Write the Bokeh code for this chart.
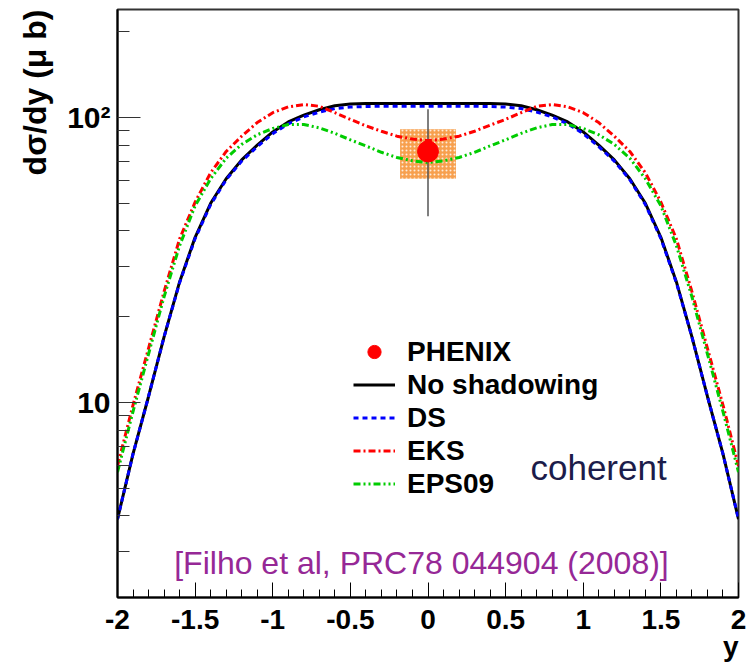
from bokeh.plotting import figure
from bokeh.models import (Range1d, SingleIntervalTicker, FixedTicker, Legend, LegendItem, Label, Title)
from bokeh.embed import file_html
from bokeh.resources import INLINE

# ---- data ----
rap = [-2.0, -1.9, -1.8, -1.7, -1.6, -1.5, -1.4, -1.3, -1.2, -1.1, -1.0,
       -0.9, -0.8, -0.7, -0.6, -0.5, -0.4, -0.3, -0.2, -0.1, 0.0,
       0.1, 0.2, 0.3, 0.4, 0.5, 0.6, 0.7, 0.8, 0.9, 1.0,
       1.1, 1.2, 1.3, 1.4, 1.5, 1.6, 1.7, 1.8, 1.9, 2.0]

no_shadowing = [3.9, 6.6, 10.5, 17.0, 26.5, 38.0, 50.0, 61.0, 71.0, 80.0, 89.0,
                96.5, 102.0, 106.5, 110.0, 111.5, 112.0, 112.0, 112.0, 112.0, 112.0,
                112.0, 112.0, 112.0, 112.0, 111.5, 110.0, 106.5, 102.0, 96.5, 89.0,
                80.0, 71.0, 61.0, 50.0, 38.0, 26.5, 17.0, 10.5, 6.6, 3.9]

ds = [3.9, 6.6, 10.5, 17.0, 26.3, 37.6, 49.5, 60.5, 70.3, 79.0, 87.8,
      95.0, 100.5, 104.5, 107.5, 108.8, 109.3, 109.5, 109.5, 109.5, 109.5,
      109.5, 109.5, 109.5, 109.3, 108.8, 107.5, 104.5, 100.5, 95.0, 87.8,
      79.0, 70.3, 60.5, 49.5, 37.6, 26.3, 17.0, 10.5, 6.6, 3.9]

eks = [6.0, 9.8, 15.5, 24.5, 37.5, 50.5, 64.0, 76.0, 86.0, 96.0, 104.0,
       109.0, 111.0, 109.5, 104.0, 98.5, 93.5, 89.5, 86.0, 84.0, 83.0,
       84.0, 86.0, 89.5, 94.0, 98.5, 104.0, 109.5, 111.0, 109.0, 104.0,
       96.0, 86.0, 76.0, 64.0, 50.5, 37.5, 24.5, 15.5, 9.8, 6.0]

eps09 = [5.7, 9.3, 14.8, 23.5, 35.5, 49.0, 61.0, 72.0, 80.5, 87.0, 91.5,
         94.5, 94.5, 92.0, 88.0, 83.5, 79.5, 75.5, 72.4, 70.5, 69.5,
         70.5, 72.4, 75.5, 79.5, 83.5, 88.0, 92.0, 94.5, 94.5, 91.5,
         87.0, 80.5, 72.0, 61.0, 49.0, 35.5, 23.5, 14.8, 9.3, 5.7]

phenix_y = [0.0]
phenix_val = [76.0]
phenix_stat = [31.0]
phenix_syst = [15.0]
phenix_box_halfwidth = [0.18]

x_tick_vals = [-2, -1.5, -1, -0.5, 0, 0.5, 1, 1.5, 2]
x_tick_labels = ["-2", "-1.5", "-1", "-0.5", "0", "0.5", "1", "1.5", "2"]
y_tick_vals = [10, 100]
y_tick_labels = ["10", "10\u00b2"]
y_minor_vals = [3, 4, 5, 6, 7, 8, 9, 20, 30, 40, 50, 60, 70, 80, 90, 200]

FONT = "Liberation Sans"

p = figure(width=749, height=667, x_range=Range1d(-2, 2), y_range=Range1d(2.07, 239.3),
           y_axis_type="log", output_backend="svg", toolbar_location=None,
           min_border_left=117, min_border_right=11, min_border_top=9, min_border_bottom=70)
p.xgrid.visible = False
p.ygrid.visible = False
p.outline_line_color = "#333333"
p.outline_line_width = 2
p.background_fill_color = "white"
p.border_fill_color = "white"

# x axis
xa = p.xaxis[0]
xa.ticker = SingleIntervalTicker(interval=0.5, num_minor_ticks=5)
xa.major_label_overrides = {v: l for v, l in zip(x_tick_vals, x_tick_labels)}
xa.major_tick_in = 15
xa.major_tick_out = 0
xa.minor_tick_in = 8
xa.minor_tick_out = 0
xa.major_label_standoff = 12
xa.major_label_text_font = FONT
xa.major_label_text_font_style = "bold"
xa.major_label_text_font_size = "28px"
xa.major_label_text_color = "black"
xa.axis_line_width = 2
xa.axis_line_color = "black"
xa.major_tick_line_color = "black"
xa.minor_tick_line_color = "black"

# y axis
ya = p.yaxis[0]
ya.ticker = FixedTicker(ticks=y_tick_vals, minor_ticks=y_minor_vals)
ya.major_label_overrides = {v: l for v, l in zip(y_tick_vals, y_tick_labels)}
ya.major_tick_in = 23
ya.major_tick_out = 0
ya.minor_tick_in = 12
ya.minor_tick_out = 0
ya.major_label_standoff = 7
ya.major_label_text_font = FONT
ya.major_label_text_font_style = "bold"
ya.major_label_text_font_size = "30px"
ya.major_label_text_color = "black"
ya.axis_line_width = 2
ya.axis_line_color = "black"
ya.major_tick_line_color = "#333333"
ya.minor_tick_line_color = "#333333"

p.add_layout(Title(text="d\u03c3/dy (\u03bc b)", align="right", text_font=FONT,
                   text_font_style="bold", text_font_size="32px", text_color="black",
                   standoff=24), "left")
p.add_layout(Title(text="y", align="right", text_font=FONT,
                   text_font_style="bold", text_font_size="28px", text_color="black",
                   standoff=-6), "below")

# PHENIX systematic box and stat error bar
left = [a - w for a, w in zip(phenix_y, phenix_box_halfwidth)]
right = [a + w for a, w in zip(phenix_y, phenix_box_halfwidth)]
bot = [v - s for v, s in zip(phenix_val, phenix_syst)]
top = [v + s for v, s in zip(phenix_val, phenix_syst)]
p.quad(left=left, right=right, bottom=bot, top=top, fill_color="#f7a04e", line_color=None,
       hatch_pattern="dot", hatch_color="white", hatch_scale=4, hatch_alpha=0.8)
p.segment(x0=phenix_y, x1=phenix_y,
          y0=[v - s for v, s in zip(phenix_val, phenix_stat)],
          y1=[v + s for v, s in zip(phenix_val, phenix_stat)],
          line_color="#555555", line_width=1.5)

# curves
r_ns = p.line(rap, no_shadowing, line_color="black", line_width=3)
r_ds = p.line(rap, ds, line_color="#0000ff", line_width=3, line_dash="5 4")
r_eks = p.line(rap, eks, line_color="#ff0000", line_width=3, line_dash="7 3 2 3")
r_eps = p.line(rap, eps09, line_color="#00cc00", line_width=3, line_dash="7 3 2 3 2 3")

r_pt = p.scatter(phenix_y, phenix_val, marker="circle", size=21, fill_color="#ff0000", line_color="#ff0000")

legend = Legend(items=[
    LegendItem(label="PHENIX", renderers=[r_pt]),
    LegendItem(label="No shadowing", renderers=[r_ns]),
    LegendItem(label="DS", renderers=[r_ds]),
    LegendItem(label="EKS", renderers=[r_eks]),
    LegendItem(label="EPS09", renderers=[r_eps]),
], location=(236, 97), orientation="vertical")
legend.label_text_font = FONT
legend.label_text_font_style = "bold"
legend.label_text_font_size = "28px"
legend.label_text_color = "black"
legend.label_height = 33
legend.glyph_height = 33
legend.glyph_width = 42
legend.spacing = 0
legend.padding = 0
legend.margin = 0
legend.label_standoff = 12
legend.border_line_alpha = 0
legend.background_fill_alpha = 0
p.add_layout(legend)

# texts
p.add_layout(Label(x=0.66, y=5.92, text="coherent", text_font=FONT, text_font_size="35px",
                   text_color="#1c1c4a", text_align="left", text_baseline="alphabetic"))
p.add_layout(Label(x=-0.042, y=2.746, text="[Filho et al, PRC78 044904 (2008)]", text_font=FONT,
                   text_font_size="32px", text_color="#962896", text_align="center",
                   text_baseline="alphabetic"))

open("out.html", "w").write(file_html(p, INLINE))
